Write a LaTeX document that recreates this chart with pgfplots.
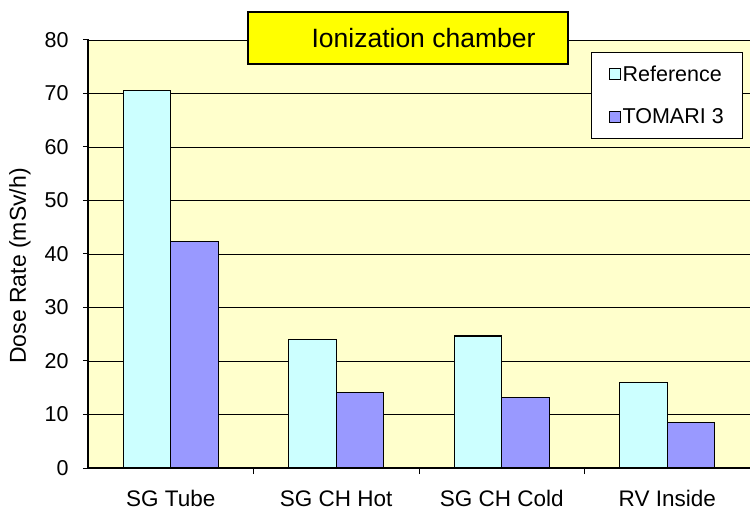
\documentclass[border=0pt]{standalone}
\usepackage{fontspec}
\setmainfont{Liberation Sans}
\usepackage{pgfplots}
\pgfplotsset{compat=1.18}
\definecolor{plotbg}{HTML}{FFFFCC}
\definecolor{refcol}{HTML}{CCFFFF}
\definecolor{tomcol}{HTML}{9999FF}
\definecolor{titlecol}{HTML}{FFFF00}

\begin{document}
\begin{tikzpicture}
\useasboundingbox (0,0) rectangle (750bp,512bp);
\begin{axis}[
  at={(88bp,44bp)}, anchor=south west,
  scale only axis, width=662bp, height=428bp,
  clip=false,
  axis background/.style={fill=plotbg},
  axis lines=left,
  axis line style={-, line width=1.3bp, black},
  xmin=-0.5, xmax=3.5,
  ymin=0, ymax=80,
  ytick={0,10,...,80},
  ymajorgrids,
  grid style={black, line width=0.9bp},
  tick align=inside,
  major tick length=6bp,
  tick style={black, line width=1bp},
  ytick style={xshift=-5bp},
  xtick={0.5,1.5,2.5},
  xticklabels={},
  extra x ticks={0,1,2,3},
  extra x tick labels={SG Tube, SG CH Hot, SG CH Cold, RV Inside},
  extra x tick style={major tick length=0pt,
    tick label style={yshift=-19bp, font=\fontsize{22.5bp}{26bp}\selectfont}},
  tick label style={font=\fontsize{21.5bp}{24bp}\selectfont},
  yticklabel style={xshift=-16bp},
  /pgf/number format/assume math mode=true,
  ylabel={Dose Rate (mSv/h)},
  every axis y label/.style={at={(axis description cs:-0.1027,0.472)}, rotate=90, anchor=center,
    font=\fontsize{23bp}{26bp}\selectfont},
  ybar=0pt, bar width=47.5bp,
  legend cell align=left,
  legend style={at={(rel axis cs:0.760,0.972)}, anchor=north west,
    draw=black, fill=white, line width=1bp,
    font=\fontsize{21.5bp}{25bp}\selectfont,
    inner xsep=17bp, inner ysep=11bp, row sep=22bp,
    /tikz/every even column/.append style={column sep=5bp}},
  legend image code/.code={\draw[#1, draw=black, line width=1bp] (0bp,-5.5bp) rectangle (11bp,5.5bp);},
]
\addplot[fill=refcol, draw=black, line width=1.3bp] coordinates {(0,70.6) (1,24.0) (2,24.7) (3,16.0)};
\addlegendentry{Reference}
\addplot[fill=tomcol, draw=black, line width=1.3bp] coordinates {(0,42.4) (1,14.1) (2,13.2) (3,8.5)};
\addlegendentry{TOMARI 3}

\draw[fill=titlecol, line width=1.5bp] (rel axis cs:0.2417,1.0654) rectangle (rel axis cs:0.725,0.944);
\node[font=\fontsize{26.5bp}{30bp}\selectfont] at (rel axis cs:0.5068,1.0047) {Ionization chamber};
\end{axis}
\end{tikzpicture}
\end{document}
